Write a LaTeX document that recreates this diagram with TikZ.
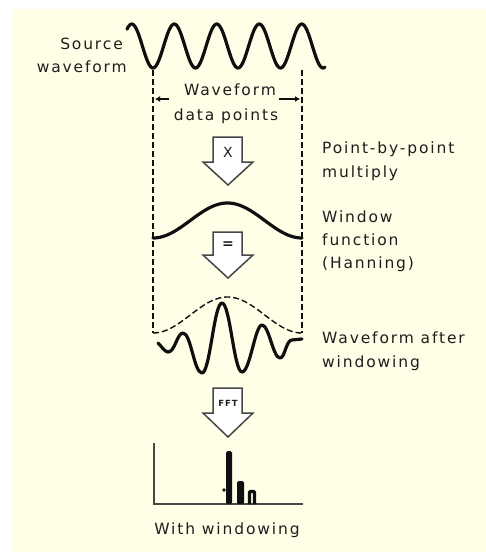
\documentclass[tikz,border=0pt]{standalone}
\usepackage{fontspec}
\setmainfont{DejaVu Sans}[LetterSpace=12]
\usetikzlibrary{arrows.meta}
\definecolor{bg}{RGB}{255,255,232}
\definecolor{ink}{RGB}{15,15,15}
\definecolor{txt}{RGB}{30,30,30}
\definecolor{outl}{RGB}{70,70,70}
\begin{document}
\begin{tikzpicture}[x=1pt,y=-1pt,
  lbl/.style={font=\fontsize{15.5}{18}\selectfont, text=txt, inner sep=0pt},
  wave/.style={line width=3.2pt, draw=ink, line join=round, line cap=round},
  guide/.style={dash pattern=on 6pt off 3pt, line width=1.4pt, draw=ink},
  dimarrow/.style={line width=1.4pt, draw=ink, -{Latex[length=5pt,width=6pt]}},
  blockarrow/.style={fill=white, draw=outl, line width=1.5pt, line join=miter},
  axis/.style={line width=2.2pt, draw=outl},
  bar/.style={fill=ink}]
\fill[white] (0,0) rectangle (486,552);
\fill[bg] (11,9) rectangle (486,552);
\useasboundingbox (0,0) rectangle (486,552);

% source waveform
\draw[wave] plot[domain=127:325, samples=200, smooth] (\x, {46+22*cos(8.4706*(\x-153))});
\node[lbl, anchor=base east] (src1) at (123,49) {Source};
\node[lbl, anchor=base east] (src2) at (127,72) {waveform};

% guides
\coordinate (gl1) at (153,70); \coordinate (gl2) at (153,333);
\coordinate (gr1) at (302,70); \coordinate (gr2) at (302,333);
\draw[guide] (gl1) -- (gl2);
\draw[guide] (gr1) -- (gr2);

% data points label
\node[lbl, anchor=base] (wdp1) at (230,95) {Waveform};
\node[lbl, anchor=base] (wdp2) at (226,120) {data points};
\coordinate (la) at (155,99); \coordinate (lb) at (169,99);
\coordinate (ra) at (300,99); \coordinate (rb) at (279,99);
\draw[dimarrow] (lb) -- (la);
\draw[dimarrow] (rb) -- (ra);

% multiply arrow
\draw[blockarrow] (213,137) -- (242,137) -- (242,162) -- (253,162) -- (228,185) -- (203,162) -- (213,162) -- cycle;
\node[lbl, font=\fontsize{14}{15}\selectfont] (mx) at (228,152) {X};
\node[lbl, anchor=base west] (pbp1) at (322,153) {Point-by-point};
\node[lbl, anchor=base west] (pbp2) at (322,177) {multiply};

% window function
\draw[wave] plot[domain=153:302, samples=120] (\x, {238-17.5*(1-cos(2.41611*(\x-153)))});
\node[lbl, anchor=base west] (wf1) at (322,222) {Window};
\node[lbl, anchor=base west] (wf2) at (322,245) {function};
\node[lbl, anchor=base west] (wf3) at (322,268) {(Hanning)};

% equals arrow
\draw[blockarrow] (213,232) -- (242,232) -- (242,255) -- (253,255) -- (228,278) -- (203,255) -- (213,255) -- cycle;
\node[lbl, font=\bfseries\fontsize{14}{15}\selectfont] (eq) at (228,245) {=};

% envelope
\draw[guide] plot[domain=153:302, samples=120] (\x, {333-18*(1-cos(2.41611*(\x-153)))});

% windowed waveform
\draw[wave] (158,343) .. controls (162,347) and (165,352) .. (168,352)
  .. controls (175,352) and (177,333) .. (183,333)
  .. controls (191,333) and (194,373) .. (202,373)
  .. controls (210,373) and (214,303) .. (222,303)
  .. controls (230,303) and (234,372) .. (242,372)
  .. controls (250,372) and (255,325) .. (262,325)
  .. controls (269,325) and (273,358) .. (280,358)
  .. controls (285,358) and (286,340) .. (292,340) -- (302,339);
\node[lbl, anchor=base west] (wa1) at (322,343) {Waveform after};
\node[lbl, anchor=base west] (wa2) at (322,367) {windowing};

% FFT arrow
\draw[blockarrow] (213,388) -- (242,388) -- (242,413) -- (253,413) -- (228,437) -- (203,413) -- (213,413) -- cycle;
\node[lbl, font=\bfseries\fontsize{8.5}{9}\selectfont] (fft) at (228,403) {FFT};

% spectrum
\coordinate (ax0) at (154,443); \coordinate (ax1) at (154,504); \coordinate (ax2) at (303,504);
\draw[axis] (ax0) -- (ax1) -- (ax2);
\fill[bar, rounded corners=1.5pt] (226,504) -- (226,451) -- (232,451) -- (232,504) -- cycle;
\fill[bar] (224,490) circle (1.8);
\fill[bar, rounded corners=1.5pt] (237,504) -- (237,481) -- (244,481) -- (244,504) -- cycle;
\draw[line width=3.2pt, draw=ink, rounded corners=1pt] (249.5,504) -- (249.5,491.5) -- (254.5,491.5) -- (254.5,504);
\node[lbl, anchor=base] (ww) at (227,534) {With windowing};
\end{tikzpicture}
\end{document}
